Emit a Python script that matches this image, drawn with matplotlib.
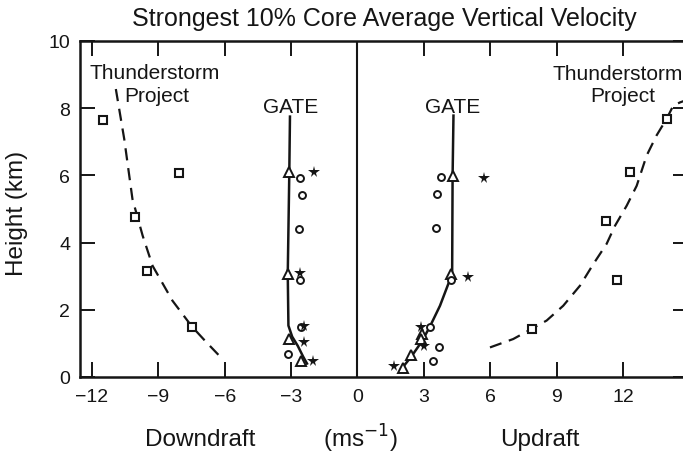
"""Strongest 10% core average vertical velocity: GATE vs Thunderstorm Project."""
import matplotlib
matplotlib.use('Agg')
import matplotlib.pyplot as plt

plt.rcParams['font.family'] = ['Liberation Sans', 'DejaVu Sans']
plt.rcParams['axes.unicode_minus'] = True

# Thunderstorm Project squares
tp_down_x = [-11.5, -8.05, -10.06, -9.49, -7.48]
tp_down_y = [7.65, 6.06, 4.77, 3.14, 1.50]
tp_up_x = [13.97, 12.31, 11.23, 11.71, 7.87]
tp_up_y = [7.68, 6.09, 4.65, 2.90, 1.43]

# Thunderstorm Project dashed curves
tp_down_line_x = [-10.92, -10.54, -10.17, -9.71, -9.26, -8.36, -7.48, -6.85, -6.24]
tp_down_line_y = [8.57, 7.08, 5.30, 4.21, 3.31, 2.27, 1.50, 1.05, 0.63]
tp_up_line_x = [5.99, 7.04, 7.87, 8.55, 9.30, 10.06, 10.66, 11.26, 11.64, 12.17,
                12.62, 13.07, 13.52, 13.97, 14.27, 14.57, 14.9]
tp_up_line_y = [0.88, 1.13, 1.43, 1.68, 2.12, 2.72, 3.36, 3.96, 4.50, 5.10,
                5.69, 6.59, 7.19, 7.68, 8.07, 8.17, 8.25]

# GATE solid curves
gate_down_line_x = [-3.05, -3.08, -3.15, -3.12, -2.95, -2.7, -2.45, -2.28]
gate_down_line_y = [7.75, 6.09, 3.07, 1.53, 1.20, 0.93, 0.60, 0.40]
gate_up_line_x = [4.34, 4.30, 4.28, 3.73, 3.26, 2.9, 2.45, 2.0]
gate_up_line_y = [7.78, 5.97, 3.07, 2.12, 1.48, 1.05, 0.62, 0.25]

# GATE markers (downdraft side)
gd_tri_x = [-3.08, -3.15, -3.08, -2.55]
gd_tri_y = [6.09, 3.07, 1.13, 0.49]
gd_circ_x = [-2.58, -2.52, -2.66, -2.59, -2.55, -3.15]
gd_circ_y = [5.92, 5.42, 4.40, 2.90, 1.48, 0.68]
gd_star_x = [-1.95, -2.58, -2.4, -2.4, -2.02]
gd_star_y = [6.09, 3.11, 1.53, 1.03, 0.49]

# GATE markers (updraft side)
gu_tri_x = [4.34, 4.24, 2.93, 2.88, 2.43, 2.05]
gu_tri_y = [5.97, 3.07, 1.28, 1.13, 0.64, 0.26]
gu_circ_x = [3.76, 3.59, 3.56, 4.24, 3.26, 3.68, 3.41]
gu_circ_y = [5.94, 5.45, 4.42, 2.90, 1.48, 0.88, 0.49]
gu_star_x = [5.70, 4.99, 2.88, 3.03, 1.63]
gu_star_y = [5.92, 2.98, 1.48, 0.91, 0.32]

x_ticks = [-12, -9, -6, -3, 0, 3, 6, 9, 12]
y_ticks = [0, 2, 4, 6, 8, 10]

ink = '#151515'

fig = plt.figure(figsize=(6.83, 4.60), dpi=100)
ax = fig.add_axes([80 / 683, 82 / 460, 608 / 683, 336 / 460])
ax.set_xlim(-12.54, 14.94)
ax.set_ylim(0, 10)

for s in ax.spines.values():
    s.set_linewidth(1.8)
    s.set_color(ink)
ax.axvline(0, color=ink, lw=1.5)

# dashed curves and squares
dash = (0, (5.5, 3.5))
ax.plot(tp_down_line_x, tp_down_line_y, color=ink, lw=1.6, linestyle=dash)
ax.plot(tp_up_line_x, tp_up_line_y, color=ink, lw=1.6, linestyle=dash)
for xs, ys in [(tp_down_x, tp_down_y), (tp_up_x, tp_up_y)]:
    ax.plot(xs, ys, 's', ms=6, mfc='white', mec=ink, mew=1.5, zorder=4)

# GATE curves and markers
ax.plot(gate_down_line_x, gate_down_line_y, color=ink, lw=1.8)
ax.plot(gate_up_line_x, gate_up_line_y, color=ink, lw=1.8)
for xs, ys in [(gd_tri_x, gd_tri_y), (gu_tri_x, gu_tri_y)]:
    ax.plot(xs, ys, '^', ms=6.5, mfc='white', mec=ink, mew=1.4, zorder=4)
for xs, ys in [(gd_circ_x, gd_circ_y), (gu_circ_x, gu_circ_y)]:
    ax.plot(xs, ys, 'o', ms=5, mfc='white', mec=ink, mew=1.4, zorder=4)
for xs, ys in [(gd_star_x, gd_star_y), (gu_star_x, gu_star_y)]:
    ax.plot(xs, ys, '*', ms=8.5, color=ink, mew=0, zorder=5)

# ticks
ax.set_xticks(x_ticks)
ax.set_xticklabels([f'{t}'.replace('-', '\u2212') for t in x_ticks])
ax.set_yticks(y_ticks)
ax.tick_params(axis='both', direction='in', length=11, width=1.4, color=ink,
               labelsize=14, labelcolor=ink, top=True, right=True)
ax.tick_params(axis='x', pad=8)
ax.tick_params(axis='y', pad=7)

# text labels
tkw = dict(color=ink, fontsize=15, ha='center', va='center')
ax.text(-9.15, 9.05, 'Thunderstorm', **tkw)
ax.text(-9.06, 8.37, 'Project', **tkw)
ax.text(11.75, 9.02, 'Thunderstorm', **tkw)
ax.text(12.0, 8.39, 'Project', **tkw)
ax.text(-3.03, 8.04, 'GATE', **tkw)
ax.text(4.32, 8.05, 'GATE', **tkw)

fig.text(384 / 683, 1 - 19 / 460, 'Strongest 10% Core Average Vertical Velocity',
         ha='center', va='center', fontsize=18, color=ink)
fig.text(17 / 683, 1 - 213 / 460, 'Height (km)', rotation=90,
         ha='center', va='center', fontsize=17.5, color=ink)
fig.text(200 / 683, 1 - 440 / 460, 'Downdraft', ha='center', va='center',
         fontsize=17.5, color=ink)
fig.text(360 / 683, 1 - 439 / 460, '(ms$^{-1}$)', ha='center', va='center',
         fontsize=17.5, color=ink)
fig.text(540 / 683, 1 - 440 / 460, 'Updraft', ha='center', va='center',
         fontsize=17.5, color=ink)

fig.savefig('out.png', dpi=100)
